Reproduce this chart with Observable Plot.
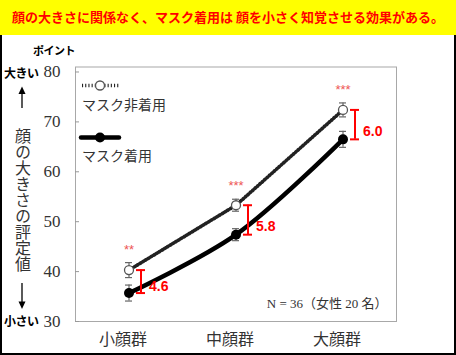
<!DOCTYPE html>
<html>
<head>
<meta charset="utf-8">
<script src="https://cdn.jsdelivr.net/npm/d3@7"></script>
<script src="https://cdn.jsdelivr.net/npm/@observablehq/plot@0.6"></script>
<style>
  body { margin: 0; background: #fff; }
  #wrap { position: relative; width: 456px; height: 355px; overflow: hidden; background: #fff; font-family: 'Noto Sans CJK JP', sans-serif; }
  #banner { position: absolute; left: 0; top: 0; width: 456px; height: 35px; background: #ffff00; color: #ff0000; font-weight: bold; font-size: 13px; line-height: 33px; text-align: center; z-index: 3; white-space: nowrap; }
  #box { position: absolute; left: 0; top: 33px; width: 456px; height: 322px; box-sizing: border-box; border: 2px solid #000; z-index: 1; }
  #chart { position: absolute; left: 0; top: 35px; z-index: 2; }
  .ann { position: absolute; z-index: 4; white-space: nowrap; color: #000; }
  #ylab { position: absolute; z-index: 4; left: 15px; top: 128px; writing-mode: vertical-rl; text-orientation: upright; font-size: 16px; color: #333; line-height: 16px; }
  #arrows { position: absolute; left: 0; top: 0; z-index: 4; }
</style>
</head>
<body>
<div id="wrap">
  <div id="banner">顔の大きさに関係なく、マスク着用は 顔を小さく知覚させる効果がある。</div>
  <div id="box"></div>
  <div id="chart"></div>
  <div class="ann" style="left:33px;top:42px;font-size:11px;font-weight:bold;letter-spacing:-0.5px;">ポイント</div>
  <div class="ann" style="left:4px;top:64px;font-size:12px;font-weight:bold;letter-spacing:-0.5px;">大きい</div>
  <div class="ann" style="left:4px;top:312px;font-size:12px;font-weight:bold;letter-spacing:-0.5px;">小さい</div>
  <div id="ylab">顔の大きさの評定値</div>
  <svg id="arrows" width="456" height="355">
    <line x1="22" y1="108" x2="22" y2="93" stroke="#000" stroke-width="1.3"/>
    <polygon points="22,86.5 18.5,94 25.5,94" fill="#000"/>
    <line x1="22" y1="283" x2="22" y2="302" stroke="#000" stroke-width="1.3"/>
    <polygon points="22,309 18.5,301.5 25.5,301.5" fill="#000"/>
  </svg>
</div>
<script>
const groups = ["小顔群", "中顔群", "大顔群"];
const unmasked = [40.3, 53.3, 72.4];
const unmaskedErr = [1.5, 1.2, 1.4];
const masked = [35.7, 47.4, 66.5];
const maskedErr = [1.6, 1.2, 1.6];
const diffLabels = ["4.6", "5.8", "6.0"];
const sigLabels = ["**", "***", "***"];
const yTicks = [30, 40, 50, 60, 70, 80];
const seriesNames = ["マスク非着用", "マスク着用"];
const noteText = "N = 36（女性 20 名）";

const rows = groups.map((g, i) => ({
  group: g,
  u: unmasked[i], ue: unmaskedErr[i],
  m: masked[i], me: maskedErr[i],
  diff: diffLabels[i], sig: sigLabels[i]
}));

const serif = "'Liberation Serif', 'Times New Roman', 'Noto Sans CJK JP', serif";
const sans = "'Liberation Sans', Arial, sans-serif";
const dotted = "1.1,2.1";

function legend(index, scales, values, dims) {
  const g = d3.create("svg:g").attr("text-anchor", "start");
  const x0 = dims.marginLeft, y0 = dims.marginTop;
  g.append("line").attr("x1", x0 + 7).attr("x2", x0 + 44).attr("y1", y0 + 19).attr("y2", y0 + 19)
    .attr("stroke", "#222").attr("stroke-width", 3.6).attr("stroke-dasharray", dotted);
  g.append("circle").attr("cx", x0 + 25).attr("cy", y0 + 19).attr("r", 4.5)
    .attr("fill", "#fff").attr("stroke", "#555").attr("stroke-width", 1.3);
  g.append("text").attr("x", x0 + 7).attr("y", y0 + 38.5).attr("dy", "0.35em")
    .attr("font-size", 14).attr("fill", "#333").text(seriesNames[0]);
  g.append("line").attr("x1", x0 + 6).attr("x2", x0 + 44).attr("y1", y0 + 71).attr("y2", y0 + 71)
    .attr("stroke", "#000").attr("stroke-width", 4.5).attr("stroke-linecap", "round");
  g.append("circle").attr("cx", x0 + 25).attr("cy", y0 + 71).attr("r", 5).attr("fill", "#000");
  g.append("text").attr("x", x0 + 7).attr("y", y0 + 90).attr("dy", "0.35em")
    .attr("font-size", 14).attr("fill", "#333").text(seriesNames[1]);
  return g.node();
}

const chart = Plot.plot({
  width: 456,
  height: 320,
  marginLeft: 75,
  marginRight: 60,
  marginTop: 31.5,
  marginBottom: 34,
  style: { background: "transparent", fontFamily: "'Noto Sans CJK JP', sans-serif", color: "#333" },
  x: { domain: groups, padding: 0, axis: null },
  y: { domain: [30, 81], axis: null },
  marks: [
    Plot.frame({ stroke: "#a8a8a8" }),
    Plot.axisY({ ticks: yTicks, tickSize: -4, tickPadding: 19, fontSize: 17, fontFamily: serif, stroke: "#999", fill: "#333", label: null }),
    Plot.axisX({ tickSize: 0, tickPadding: 12, fontSize: 16, dx: -6, fill: "#333", label: null }),
    Plot.line(rows, { x: "group", y: "u", curve: "linear", stroke: "#222", strokeWidth: 3.6, strokeDasharray: dotted }),
    Plot.line(rows, { x: "group", y: "m", curve: "catmull-rom", stroke: "#000", strokeWidth: 4.5 }),
    Plot.ruleX(rows, { x: "group", y1: d => d.u - d.ue, y2: d => d.u + d.ue, stroke: "#666", strokeWidth: 1.2 }),
    Plot.tickY(rows, { x: "group", y: d => d.u - d.ue, stroke: "#666", strokeWidth: 1.2, insetLeft: 50, insetRight: 50 }),
    Plot.tickY(rows, { x: "group", y: d => d.u + d.ue, stroke: "#666", strokeWidth: 1.2, insetLeft: 50, insetRight: 50 }),
    Plot.ruleX(rows, { x: "group", y1: d => d.m - d.me, y2: d => d.m + d.me, stroke: "#666", strokeWidth: 1.2 }),
    Plot.tickY(rows, { x: "group", y: d => d.m - d.me, stroke: "#666", strokeWidth: 1.2, insetLeft: 50, insetRight: 50 }),
    Plot.tickY(rows, { x: "group", y: d => d.m + d.me, stroke: "#666", strokeWidth: 1.2, insetLeft: 50, insetRight: 50 }),
    Plot.dot(rows, { x: "group", y: "u", r: 4.5, fill: "#fff", stroke: "#555", strokeWidth: 1.3 }),
    Plot.dot(rows, { x: "group", y: "m", r: 5, fill: "#000" }),
    Plot.ruleX(rows, { x: "group", y1: "m", y2: "u", dx: 12, stroke: "#ff0000", strokeWidth: 2 }),
    Plot.tickY(rows, { x: "group", y: "m", dx: 12, stroke: "#ff0000", strokeWidth: 2, insetLeft: 49, insetRight: 49 }),
    Plot.tickY(rows, { x: "group", y: "u", dx: 12, stroke: "#ff0000", strokeWidth: 2, insetLeft: 49, insetRight: 49 }),
    Plot.text(rows, { x: "group", y: d => d.m + (d.u - d.m) * 0.28, text: "diff", dx: 20, textAnchor: "start", fill: "#ff0000", fontSize: 14, fontWeight: "bold", fontFamily: sans }),
    Plot.text(rows, { x: "group", y: d => d.u + d.ue, text: "sig", dy: -13, fill: "#ee5555", fontSize: 13, fontFamily: sans }),
    Plot.text([noteText], { frameAnchor: "bottom-right", dx: -9, dy: -14, fontSize: 13, fontFamily: serif, fill: "#333", text: d => d }),
    legend
  ]
});
document.getElementById("chart").appendChild(chart);
</script>
</body>
</html>
